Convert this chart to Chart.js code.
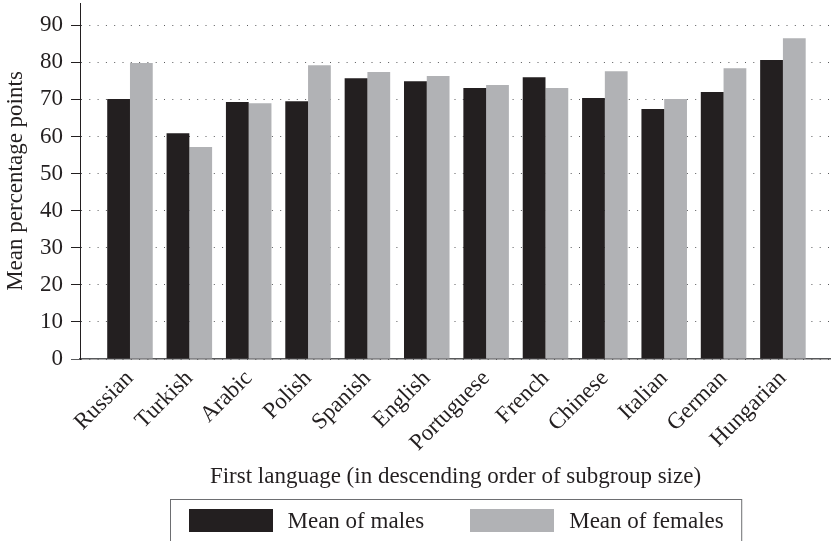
<!DOCTYPE html>
<html>
<head>
<meta charset="utf-8">
<script src="https://cdn.jsdelivr.net/npm/chart.js@4/dist/chart.umd.min.js"></script>
<style>
  html, body { margin: 0; padding: 0; background: #ffffff; }
  #wrap { width: 831px; height: 541px; }
</style>
</head>
<body>
<div id="wrap"><canvas id="chart" width="831" height="541"></canvas></div>
<script>
// First languages, in descending order of subgroup size
const categories = ['Russian', 'Turkish', 'Arabic', 'Polish', 'Spanish', 'English',
  'Portuguese', 'French', 'Chinese', 'Italian', 'German', 'Hungarian'];
// Mean percentage points per group
const males   = [70.1, 60.9, 69.3, 69.5, 75.7, 74.9, 73.1, 76.0, 70.4, 67.4, 72.0, 80.6];
const females = [79.8, 57.2, 69.0, 79.2, 77.4, 76.3, 73.9, 73.1, 77.6, 70.1, 78.4, 86.5];
const seriesNames = ['Mean of males', 'Mean of females'];
const yTicks = [0, 10, 20, 30, 40, 50, 60, 70, 80, 90];

const INK = '#231f20';
const SERIF = '"Liberation Serif", "Times New Roman", serif';
const FONT_SIZE = 23;

// Boxed legend drawn under the axis title
const boxedLegend = {
  id: 'boxedLegend',
  afterDraw(chart) {
    const { ctx, chartArea } = chart;
    const sets = chart.data.datasets;
    ctx.save();
    ctx.font = FONT_SIZE + 'px ' + SERIF;
    const sw = 84, sh = 23, gap = 15, itemGap = 46, pad = 18;
    const widths = sets.map(d => ctx.measureText(d.label).width);
    let total = pad * 2 + itemGap * (sets.length - 1);
    widths.forEach(w => { total += sw + gap + w; });
    const cx = (chartArea.left + chartArea.right) / 2;
    const left = Math.round(cx - total / 2) + 0.5;
    const top = 499.5;
    ctx.strokeStyle = '#6d6e71';
    ctx.lineWidth = 1;
    ctx.strokeRect(left, top, total, 60);
    let x = left + pad;
    ctx.textBaseline = 'middle';
    ctx.textAlign = 'left';
    sets.forEach((d, i) => {
      ctx.fillStyle = d.backgroundColor;
      ctx.fillRect(Math.round(x), top + 9.5, sw, sh);
      x += sw + gap;
      ctx.fillStyle = INK;
      ctx.fillText(d.label, x, top + 9.5 + sh / 2 + 1);
      x += widths[i] + itemGap;
    });
    ctx.restore();
  }
};

const toPoints = arr => arr.map((v, i) => ({ x: i, y: v }));

new Chart(document.getElementById('chart'), {
  type: 'bar',
  data: {
    datasets: [
      { label: seriesNames[0], data: toPoints(males), backgroundColor: INK,
        borderWidth: 0, categoryPercentage: 0.767, barPercentage: 1 },
      { label: seriesNames[1], data: toPoints(females), backgroundColor: '#b1b2b5',
        borderWidth: 0, categoryPercentage: 0.767, barPercentage: 1 }
    ]
  },
  options: {
    responsive: false,
    animation: false,
    layout: { padding: { top: 3, right: 0, bottom: 45, left: 0 } },
    plugins: { legend: { display: false }, tooltip: { enabled: false } },
    scales: {
      x: {
        type: 'linear',
        offset: false,
        min: -0.842,
        max: 11.81,
        afterBuildTicks: s => { s.ticks = categories.map((_, i) => ({ value: i })); },
        afterFit: s => { s.height = 137; s.paddingLeft = 0; s.paddingRight = 0; },
        grid: { display: false, drawTicks: false },
        border: { display: true, color: '#58595b', width: 1.5 },
        ticks: {
          autoSkip: false, minRotation: 45, maxRotation: 45, padding: 6,
          color: INK, font: { family: SERIF, size: FONT_SIZE },
          callback: v => categories[v]
        },
        title: {
          display: true, text: 'First language (in descending order of subgroup size)',
          color: INK, font: { family: SERIF, size: FONT_SIZE }, padding: { top: 0, bottom: 5 }
        }
      },
      y: {
        min: 0,
        max: 96,
        afterBuildTicks: s => { s.ticks = yTicks.map(v => ({ value: v })); },
        afterFit: s => { s.width = 80; s.paddingTop = 0; s.paddingBottom = 0; },
        grid: {
          color: '#58595b', lineWidth: 1, drawTicks: true, tickLength: 9,
          tickColor: ctx => (ctx.tick && ctx.tick.value === 0 ? '#58595b' : INK),
          tickBorderDash: []
        },
        border: { display: true, color: INK, width: 1, dash: [1, 7.3] },
        ticks: { padding: 8, color: INK, font: { family: SERIF, size: FONT_SIZE } },
        title: {
          display: true, text: 'Mean percentage points',
          color: INK, font: { family: SERIF, size: FONT_SIZE }, padding: { top: 2, bottom: 0 }
        }
      }
    }
  },
  plugins: [boxedLegend]
});
</script>
</body>
</html>
